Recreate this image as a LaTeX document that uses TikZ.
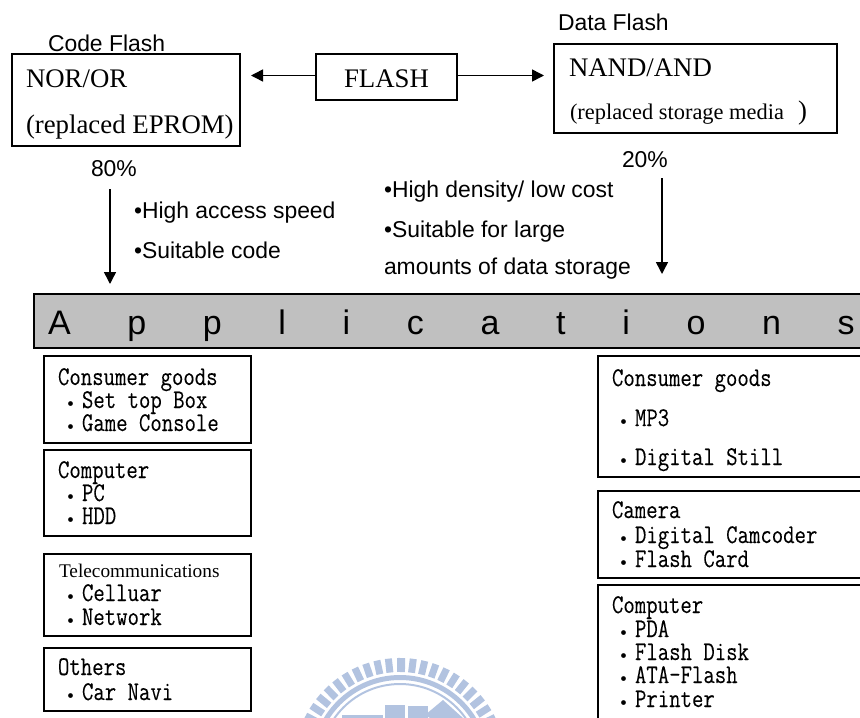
\documentclass[tikz,border=0pt]{standalone}
\usepackage{fontspec}
\usetikzlibrary{arrows.meta}
\setmainfont{Liberation Serif}
\setsansfont{Liberation Sans}
\setmonofont[FakeStretch=0.82,FakeBold=0.15]{Latin Modern Mono}
\newfontfamily\cjkdot{Noto Sans CJK TC}
\newfontfamily\spacedfont[LetterSpace=166.7]{Liberation Sans}
\definecolor{barfill}{HTML}{C0C0C0}
\definecolor{logoblue}{HTML}{B2C3E0}
\newcommand{\itm}{\makebox[23pt][c]{\raisebox{-2.8pt}{\cjkdot\bfseries\fontsize{17}{17}\selectfont ・}}}
\tikzset{
  x=1pt,y=-1pt,
  box/.style={draw=black,line width=1.3pt,anchor=north west,inner sep=0pt,outer sep=0pt},
  lbl/.style={anchor=base west,inner sep=0pt,outer sep=0pt,text=black},
  arial/.style={lbl,font=\sffamily\fontsize{22.9}{26}\selectfont},
  times/.style={lbl,font=\rmfamily\fontsize{26.8}{30}\selectfont},
  mono/.style={lbl,font=\ttfamily\fontsize{27}{28}\selectfont},
  link/.style={line width=1.5pt,-{Triangle[length=12pt,width=12pt]}},
}
\begin{document}
\begin{tikzpicture}
\useasboundingbox (0,0) rectangle (860,718);
\clip (0,0) rectangle (860,718);
% watermark
\foreach \a in {0,6.3,...,360}{
  \fill[logoblue,rotate around={\a:(400,764)}] (396.5,658) rectangle (403.5,672);
}
\draw[logoblue,line width=5pt] (400,764) circle (86.5);
\draw[logoblue,line width=2pt] (400,764) circle (80);
\fill[logoblue] (342,715) rectangle (383,718);
\fill[logoblue] (385,705) rectangle (405,718);
\fill[logoblue] (408,706) rectangle (428,718);
\fill[logoblue] (443,700) -- (463,718) -- (430,718) -- (425,715) -- cycle;
% top boxes
\node[box,minimum width=228pt,minimum height=92pt] (code) at (12,54) {};
\node[box,minimum width=141pt,minimum height=46pt] (flash) at (316,54) {};
\node[box,minimum width=283pt,minimum height=89pt] (nand) at (554,44) {};
\node[box,fill=barfill,minimum width=860pt,minimum height=54pt] (bar) at (34,294) {};
% texts on top
\node[arial] (tcode) at (48,51) {Code Flash};
\node[arial] (tdata) at (558,30) {Data Flash};
\node[times] (tnor) at (26,87) {NOR/OR};
\node[times] (trep) at (26,133) {(replaced EPROM)};
\node[times] (tflash) at (344,87) {FLASH};
\node[times] (tnand) at (569,76) {NAND/AND};
\node[lbl,font=\rmfamily\fontsize{22.4}{26}\selectfont] (tstor) at (570,119) {(replaced storage media};
\node[times] (tstorb) at (798,119) {)};
\node[arial] (t80) at (91,176) {80\%};
\node[arial] (t20) at (622,167) {20\%};
\node[arial] (n1) at (134,218) {•High access speed};
\node[arial] (n2) at (134,258) {•Suitable code};
\node[arial] (d1) at (384,197) {•High density/ low cost};
\node[arial] (d2) at (384,237) {•Suitable for large};
\node[arial] (d3) at (384,274) {amounts of data storage};
\node[lbl,font=\spacedfont\fontsize{34}{36}\selectfont] (tapp) at (48,334) {Applications};
% arrows
\draw[link,shorten >=11pt] ([yshift=1.5pt]flash.west) -- ([yshift=1.5pt]flash.west -| code.east);
\draw[link,shorten >=10pt] ([yshift=1.5pt]flash.east) -- ([yshift=1.5pt]flash.east -| nand.west);
\coordinate (a1) at (110,189);
\coordinate (a2) at (110,284);
\coordinate (b1) at (662,178);
\coordinate (b2) at (662,274);
\draw[link] (a1) -- (a2);
\draw[link] (b1) -- (b2);
% left application boxes
\node[box,minimum width=207pt,minimum height=87pt] (l1) at (44,356) {};
\node[box,minimum width=207pt,minimum height=86pt] (l2) at (44,450) {};
\node[box,minimum width=207pt,minimum height=82pt] (l3) at (44,554) {};
\node[box,minimum width=207pt,minimum height=63pt] (l4) at (44,648) {};
\node[mono] (l1a) at (58,385) {Consumer goods};
\node[mono] (l1b) at (59,408) {\itm Set top Box};
\node[mono] (l1c) at (59,431) {\itm Game Console};
\node[mono] (l2a) at (58,478) {Computer};
\node[mono] (l2b) at (59,501) {\itm PC};
\node[mono] (l2c) at (59,524) {\itm HDD};
\node[lbl,font=\rmfamily\fontsize{19.3}{22}\selectfont] (l3a) at (59,577) {Telecommunications};
\node[mono] (l3b) at (59,601) {\itm Celluar};
\node[mono] (l3c) at (59,625) {\itm Network};
\node[mono] (l4a) at (58,675) {Others};
\node[mono] (l4b) at (59,700) {\itm Car Navi};
% right application boxes
\node[box,minimum width=300pt,minimum height=121pt] (r1) at (598,356) {};
\node[box,minimum width=300pt,minimum height=87pt] (r2) at (598,491) {};
\node[box,minimum width=300pt,minimum height=160pt] (r3) at (598,585) {};
\node[mono] (r1a) at (612,386) {Consumer goods};
\node[mono] (r1b) at (612,426) {\itm MP3};
\node[mono] (r1c) at (612,465) {\itm Digital Still};
\node[mono] (r2a) at (612,518) {Camera};
\node[mono] (r2b) at (612,543) {\itm Digital Camcoder};
\node[mono] (r2c) at (612,567) {\itm Flash Card};
\node[mono] (r3a) at (612,613) {Computer};
\node[mono] (r3b) at (612,637) {\itm PDA};
\node[mono] (r3c) at (612,660) {\itm Flash Disk};
\node[mono] (r3d) at (612,683) {\itm ATA-Flash};
\node[mono] (r3e) at (612,707) {\itm Printer};
\end{tikzpicture}
\end{document}
